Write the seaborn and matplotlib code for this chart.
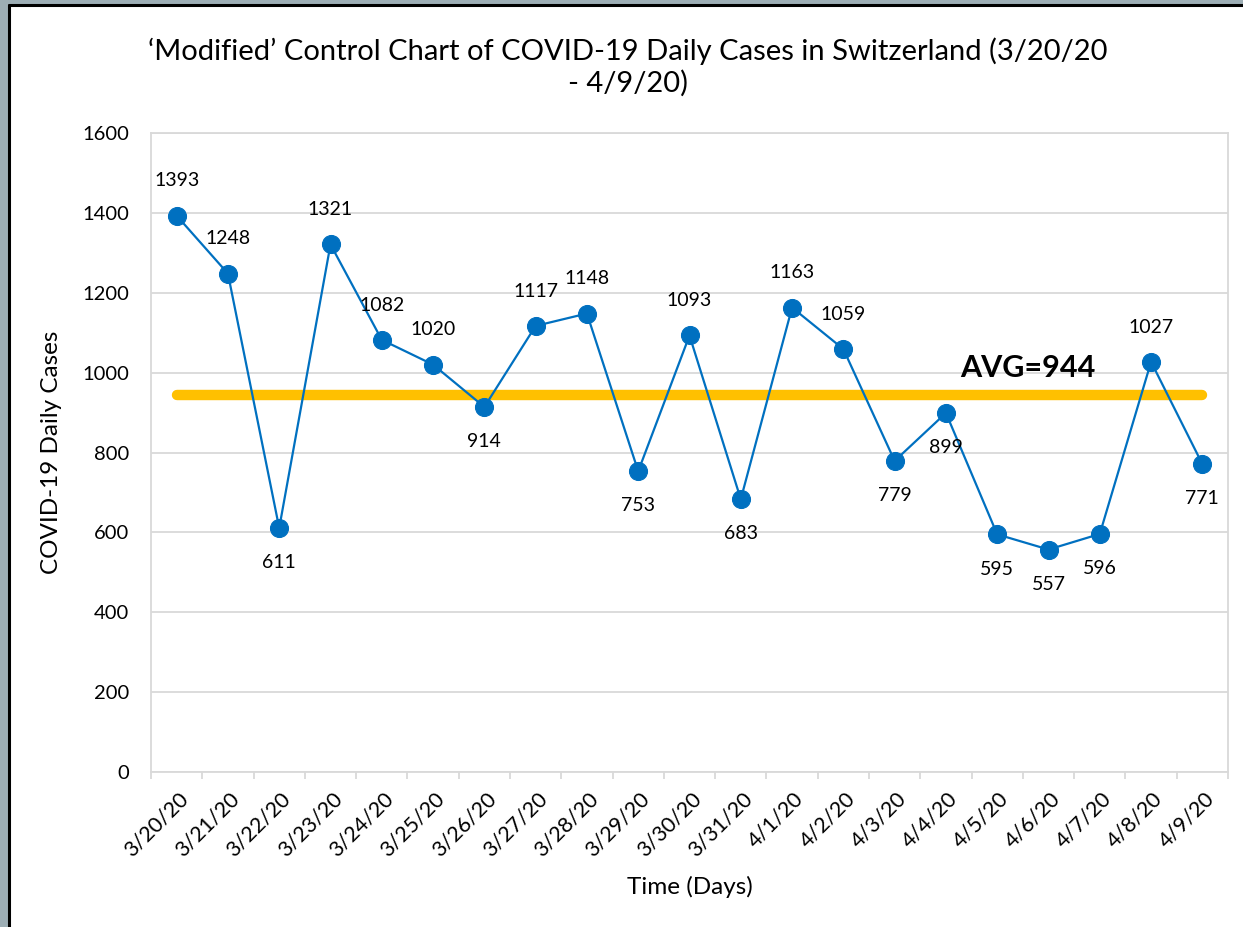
import matplotlib
matplotlib.use("Agg")
import matplotlib.pyplot as plt
import matplotlib.transforms as mtransforms
from matplotlib.patches import Rectangle
from matplotlib.lines import Line2D
import numpy as np
import pandas as pd
import seaborn as sns

# Daily new COVID-19 cases in Switzerland
dates = ["3/20/20", "3/21/20", "3/22/20", "3/23/20", "3/24/20", "3/25/20", "3/26/20",
         "3/27/20", "3/28/20", "3/29/20", "3/30/20", "3/31/20", "4/1/20", "4/2/20",
         "4/3/20", "4/4/20", "4/5/20", "4/6/20", "4/7/20", "4/8/20", "4/9/20"]
cases = [1393, 1248, 611, 1321, 1082, 1020, 914, 1117, 1148, 753, 1093, 683,
         1163, 1059, 779, 899, 595, 557, 596, 1027, 771]
# label placement relative to each marker
label_side = ["up", "up", "down", "up", "up", "up", "down", "up", "up", "down", "up", "down",
              "up", "up", "down", "down", "down", "down", "down", "up", "down"]
avg_value = 944

y_ticks = [0, 200, 400, 600, 800, 1000, 1200, 1400, 1600]

BLUE = "#0070C0"
GOLD = "#FFC000"
GRID = "#D9D9D9"
FONT = "Lato"

sns.set_theme(style="white")
plt.rcParams["font.family"] = [FONT, "DejaVu Sans"]
plt.rcParams["text.color"] = "black"
plt.rcParams["axes.labelcolor"] = "black"
plt.rcParams["xtick.color"] = "black"
plt.rcParams["ytick.color"] = "black"

df = pd.DataFrame({"idx": np.arange(len(dates)), "date": dates, "cases": cases})

W, H, DPI = 1243, 927, 100
fig = plt.figure(figsize=(W / DPI, H / DPI), dpi=DPI, facecolor="#9DAEB5")

# white chart panel with dark edge on top and left
fig.patches.append(Rectangle((9 / W, 0), 1 - 9 / W, 1 - 5 / H, transform=fig.transFigure,
                             facecolor="white", edgecolor="none", zorder=-10))
fig.lines.append(Line2D([9 / W, 9 / W], [0, 1 - 5 / H], transform=fig.transFigure,
                        color="black", linewidth=2.2, zorder=-5))
fig.lines.append(Line2D([9 / W, 1], [1 - 5 / H, 1 - 5 / H], transform=fig.transFigure,
                        color="black", linewidth=2.2, zorder=-5))

left, right, top, bottom = 151, 1228, 133, 772
ax = fig.add_axes([left / W, 1 - bottom / H, (right - left) / W, (bottom - top) / H])
ax.set_facecolor("white")

# average line
avg_df = pd.DataFrame({"idx": [0, len(dates) - 1], "v": [avg_value, avg_value]})
sns.lineplot(data=avg_df, x="idx", y="v", ax=ax, color=GOLD, linewidth=7.5,
             solid_capstyle="round", zorder=2)

sns.lineplot(data=df, x="idx", y="cases", ax=ax, color=BLUE, linewidth=1.6,
             marker="o", markersize=13, markeredgecolor=BLUE, markerfacecolor=BLUE, zorder=3)

for i, (v, side) in enumerate(zip(cases, label_side)):
    dy = 25 if side == "up" else -25
    ax.annotate(str(v), (i, v), xytext=(0, dy), textcoords="offset points",
                ha="center", va="center", fontsize=14, color="black", zorder=4)

ax.text(16.6, avg_value + 32, f"AVG={avg_value}", fontsize=22, fontweight="bold",
        ha="center", va="bottom", color="black")

ax.set_xlim(-0.5, len(dates) - 0.5)
ax.set_ylim(0, 1600)
ax.set_yticks(y_ticks)
ax.set_yticklabels([str(t) for t in y_ticks])
ax.yaxis.grid(True, color=GRID, linewidth=1.3)
ax.set_axisbelow(True)

ax.set_xticks(np.arange(len(dates)))
ax.set_xticklabels(dates, rotation=45, ha="right", va="center", rotation_mode="anchor")
ax.set_xticks(np.arange(len(dates) + 1) - 0.5, minor=True)
ax.tick_params(axis="x", which="major", length=0, labelsize=15.5, pad=17)
ax.tick_params(axis="x", which="minor", length=5, width=1.3, color=GRID, bottom=True)
ax.tick_params(axis="y", length=0, labelsize=14.5, pad=16)
offset = mtransforms.ScaledTranslation(6 / 72, 0, fig.dpi_scale_trans)
for lbl in ax.get_xticklabels():
    lbl.set_transform(lbl.get_transform() + offset)

for s in ax.spines.values():
    s.set_visible(True)
    s.set_color(GRID)
    s.set_linewidth(1.3)

ax.set_xlabel("Time (Days)", fontsize=17.5, labelpad=11)
ax.set_ylabel("COVID-19 Daily Cases", fontsize=17.5, labelpad=14)

fig.text(628 / W, 1 - 67 / H,
         "\u2018Modified\u2019 Control Chart of COVID-19 Daily Cases in Switzerland (3/20/20\n- 4/9/20)",
         ha="center", va="center", fontsize=21, linespacing=1.2)

fig.savefig("out.png", dpi=DPI, facecolor=fig.get_facecolor())
